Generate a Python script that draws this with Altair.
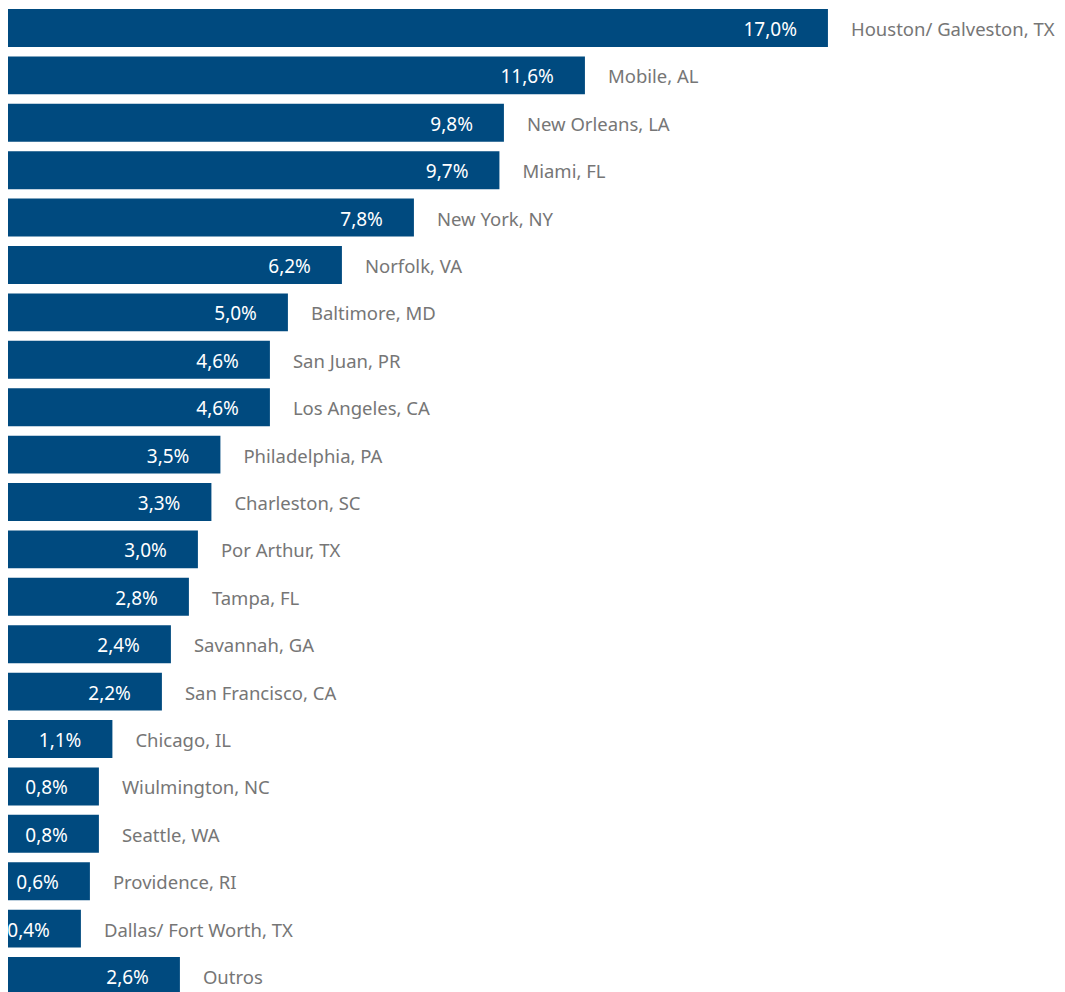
import altair as alt
import pandas as pd

ports = ["Houston/ Galveston, TX", "Mobile, AL", "New Orleans, LA", "Miami, FL",
         "New York, NY", "Norfolk, VA", "Baltimore, MD", "San Juan, PR",
         "Los Angeles, CA", "Philadelphia, PA", "Charleston, SC", "Por Arthur, TX",
         "Tampa, FL", "Savannah, GA", "San Francisco, CA", "Chicago, IL",
         "Wiulmington, NC", "Seattle, WA", "Providence, RI", "Dallas/ Fort Worth, TX",
         "Outros"]
shares = [17.0, 11.6, 9.8, 9.7, 7.8, 6.2, 5.0, 4.6, 4.6, 3.5, 3.3, 3.0, 2.8, 2.4,
          2.2, 1.1, 0.8, 0.8, 0.6, 0.4, 2.6]

df = pd.DataFrame({"port": ports, "share": shares})
df["label"] = [f"{v:.1f}".replace(".", ",") + "%" for v in shares]

BASE = -1.22
FONT = "Noto Sans"

x = alt.X("share:Q", scale=alt.Scale(domain=[BASE, 22.09], nice=False, zero=False), axis=None)
y = alt.Y("port:N", sort=None, axis=None,
          scale=alt.Scale(paddingInner=0.2, paddingOuter=0))

base = alt.Chart(df).encode(y=y)

bars = base.mark_bar(color="#004A7F", cornerRadius=0).encode(x=x, x2=alt.datum(BASE))
vals = base.mark_text(align="right", dx=-31, dy=2, color="white", font=FONT, fontSize=19,
                      baseline="middle").encode(x=x, text="label:N")
names = base.mark_text(align="left", dx=23, dy=2, color="#767676", font=FONT, fontSize=18.5,
                       baseline="middle").encode(x=x, text="port:N")

chart = (bars + vals + names).properties(
    width=1049, height=986,
    autosize=alt.AutoSizeParams(type="none"),
    padding={"left": 0, "top": 1, "right": 0, "bottom": 0},
).configure_view(stroke=None)

chart.save("out.html", embed_options={"renderer": "svg", "actions": False})
